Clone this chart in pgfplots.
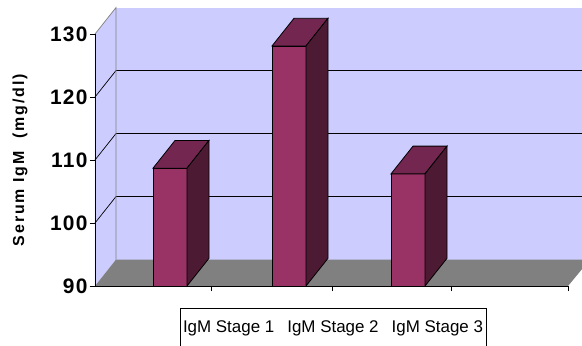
\documentclass[border=0pt]{standalone}
\usepackage{fontspec}
\setmainfont{Liberation Sans}
\usepackage{pgfplots}
\pgfplotsset{compat=1.18}
\definecolor{wall}{HTML}{CCCCFF}
\definecolor{floorgray}{HTML}{808080}
\definecolor{barfront}{HTML}{993366}
\definecolor{bartop}{HTML}{732650}
\definecolor{barside}{HTML}{4D1A33}
\begin{document}
\begin{tikzpicture}
\begin{axis}[
  x=1bp, y=6.3bp,
  xmin=95, xmax=568, ymin=90, ymax=130,
  clip=false, axis on top, no markers,
  axis x line*=bottom, axis y line*=left,
  axis line style={black, line width=0.9pt},
  xtick={211,332,451,568}, xticklabels={},
  ytick={90,100,110,120,130},
  tick align=outside, major tick length=5bp,
  tick style={black, line width=0.9pt},
  /pgf/number format/assume math mode=true,
  yticklabel style={font=\fontsize{21}{23}\selectfont\bfseries\addfontfeature{LetterSpace=6}, xshift=1bp},
  ylabel={Serum IgM\ \ (mg/dl)},
  every axis y label/.style={at={(axis cs:20,110)}, rotate=90, anchor=center, font=\fontsize{16}{18}\selectfont\bfseries\addfontfeature{LetterSpace=12}},
  legend style={at={(axis cs:333,86.5)}, anchor=north, legend columns=3, draw=black, line width=0.8pt,
    inner xsep=2bp,
    font=\fontsize{17}{19}\selectfont, nodes={text height=20bp, text depth=22bp, inner xsep=1bp},
    /tikz/every even column/.append style={column sep=11bp}},
]
% back wall
\addplot[fill=wall, draw=none, forget plot] coordinates {(116,94.2)(595,94.2)(595,134.2)(116,134.2)} -- cycle;
% left wall
\addplot[fill=wall, draw=none, forget plot] coordinates {(95,90)(116,94.2)(116,134.2)(95,130)} -- cycle;
% floor
\addplot[fill=floorgray, draw=none, forget plot] coordinates {(95,90)(568,90)(590,94.2)(116,94.2)} -- cycle;
% gridlines on back wall
\addplot[black, line width=0.9pt, forget plot] coordinates {(116,104.2)(595,104.2)};
\addplot[black, line width=0.9pt, forget plot] coordinates {(116,114.2)(595,114.2)};
\addplot[black, line width=0.9pt, forget plot] coordinates {(116,124.2)(595,124.2)};
% gridlines on side wall
\addplot[black, line width=0.7pt, forget plot] coordinates {(95,100)(116,104.2)};
\addplot[black, line width=0.7pt, forget plot] coordinates {(95,110)(116,114.2)};
\addplot[black, line width=0.7pt, forget plot] coordinates {(95,120)(116,124.2)};
% left wall edges
\addplot[gray, line width=0.7pt, forget plot] coordinates {(95,130)(116,134.2)(116,94.2)};
% bar 1 (108.7)
\addplot[fill=barfront, draw=black, line width=0.8pt, forget plot] coordinates {(153,90)(187,90)(187,108.7)(153,108.7)} -- cycle;
\addplot[fill=bartop, draw=black, line width=0.8pt, forget plot] coordinates {(153,108.7)(187,108.7)(209,113.1)(175,113.1)} -- cycle;
\addplot[fill=barside, draw=black, line width=0.8pt, forget plot] coordinates {(187,90)(209,94.4)(209,113.1)(187,108.7)} -- cycle;
% bar 2 (128.1)
\addplot[fill=barfront, draw=black, line width=0.8pt, forget plot] coordinates {(272,90)(306,90)(306,128.1)(272,128.1)} -- cycle;
\addplot[fill=bartop, draw=black, line width=0.8pt, forget plot] coordinates {(272,128.1)(306,128.1)(328,132.5)(294,132.5)} -- cycle;
\addplot[fill=barside, draw=black, line width=0.8pt, forget plot] coordinates {(306,90)(328,94.4)(328,132.5)(306,128.1)} -- cycle;
% bar 3 (107.8)
\addplot[fill=barfront, draw=black, line width=0.8pt, forget plot] coordinates {(391,90)(425,90)(425,107.8)(391,107.8)} -- cycle;
\addplot[fill=bartop, draw=black, line width=0.8pt, forget plot] coordinates {(391,107.8)(425,107.8)(447,112.2)(413,112.2)} -- cycle;
\addplot[fill=barside, draw=black, line width=0.8pt, forget plot] coordinates {(425,90)(447,94.4)(447,112.2)(425,107.8)} -- cycle;
\addlegendimage{empty legend}\addlegendentry{IgM Stage 1}
\addlegendimage{empty legend}\addlegendentry{IgM Stage 2}
\addlegendimage{empty legend}\addlegendentry{IgM Stage 3}
\coordinate (BL) at (axis cs:0,80.635);
\coordinate (TR) at (axis cs:582,135.397);
\end{axis}
\pgfresetboundingbox
\useasboundingbox (BL) rectangle (TR);
\end{tikzpicture}
\end{document}
